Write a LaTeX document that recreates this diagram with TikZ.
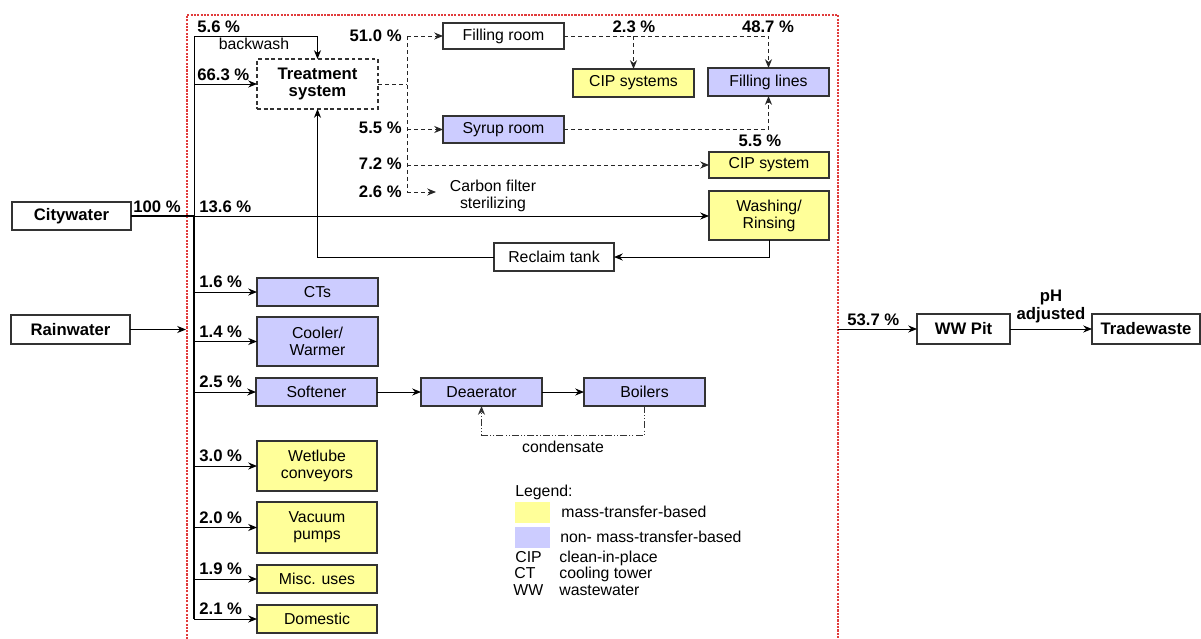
\documentclass[tikz,border=0pt]{standalone}
\usepackage{fontspec}
\setmainfont{Liberation Sans}
\usetikzlibrary{arrows.meta}
\definecolor{massfill}{HTML}{FFFF99}
\definecolor{nonmassfill}{HTML}{CCCCFF}
\definecolor{boxline}{HTML}{333333}
\definecolor{plantred}{HTML}{E03C3C}
% box from its two corners: name, x1, y1, x2, y2, style, text
\newcommand\flowbox[7]{\node[#6, minimum width={(#4-#2)*0.02cm}, minimum height={(#5-#3)*0.02cm}] (#1) at ({(#2+#4)/2},{(#3+#5)/2}) {#7};}
\tikzset{
  unit/.style={draw=boxline, line width=0.6pt, inner sep=0pt, outer sep=0pt, align=center, font=\fontsize{9}{9.6}\selectfont},
  plain/.style={unit, fill=white},
  mass/.style={unit, fill=massfill},
  nonmass/.style={unit, fill=nonmassfill},
  bplain/.style={plain, font=\fontsize{9.5}{10}\selectfont\bfseries},
  dashbox/.style={unit, dash pattern=on 2.2pt off 1.6pt, font=\fontsize{9.5}{9.6}\selectfont\bfseries},
  swatch/.style={inner sep=0pt, outer sep=0pt},
  pct/.style={font=\fontsize{9.5}{10}\selectfont\bfseries, inner sep=0pt},
  txt/.style={font=\fontsize{9}{9.6}\selectfont, inner sep=0pt, align=center},
  tip/.style={-{Stealth[length=5pt,width=4pt]}},
  pipe/.style={line width=0.55pt},
  flow/.style={pipe, tip},
  trunk/.style={line width=1.6pt},
  dpipe/.style={pipe, draw=black!85, dash pattern=on 2.3pt off 1.7pt},
  dflow/.style={dpipe, tip},
  condflow/.style={pipe, draw=black!80, tip, dash pattern=on 4pt off 1.2pt on 0.6pt off 1.2pt on 0.6pt off 1.2pt},
  border/.style={draw=plantred, line width=0.6pt, dash pattern=on 1.2pt off 0.7pt}
}
\begin{document}
\begin{tikzpicture}[x=0.02cm, y=-0.02cm]
\useasboundingbox (0,0) rectangle (1201,639);

% plant boundary
\draw[border] (187,639) -- (187,15) -- (838,15) -- (838,639);

% sources and sinks
\flowbox{city}{12}{202}{131}{230}{bplain}{Citywater}
\flowbox{rain}{11}{315}{130}{344}{bplain}{Rainwater}
\flowbox{ww}{917}{314}{1010}{344}{bplain}{WW Pit}
\flowbox{trade}{1092}{314}{1200}{344}{bplain}{Tradewaste}

% process units
\flowbox{ts}{257}{59}{378}{109}{dashbox}{Treatment\\system}
\flowbox{fr}{443}{23}{564}{49}{plain}{Filling room}
\flowbox{cips}{573}{69}{694}{97}{mass}{CIP systems}
\flowbox{fl}{708}{68}{829}{96}{nonmass}{Filling lines}
\flowbox{sr}{443}{116}{564}{143}{nonmass}{Syrup room}
\flowbox{cip}{709}{152}{829}{178}{mass}{CIP system}
\flowbox{wash}{709}{191}{829}{240}{mass}{Washing/\\Rinsing}
\flowbox{rt}{494}{243}{614}{271}{plain}{Reclaim tank}
\flowbox{ct}{257}{278}{378}{306}{nonmass}{CTs}
\flowbox{cw}{257}{317}{378}{366}{nonmass}{Cooler/\\Warmer}
\flowbox{soft}{256}{378}{377}{406}{nonmass}{Softener}
\flowbox{dea}{421}{378}{542}{406}{nonmass}{Deaerator}
\flowbox{boil}{584}{378}{705}{406}{nonmass}{Boilers}
\flowbox{wet}{257}{441}{377}{491}{mass}{Wetlube\\conveyors}
\flowbox{vac}{257}{502}{377}{553}{mass}{Vacuum\\pumps}
\flowbox{misc}{257}{565}{377}{593}{mass}{Misc. uses}
\flowbox{dom}{257}{605}{377}{633}{mass}{Domestic}

% junction points
\coordinate (jtop) at (194,36);
\coordinate (jcity) at (194,216);
\coordinate (jbot) at (194,619);
\coordinate (rainend) at (186,329.5);
\coordinate (tsj) at (407,84);
\coordinate (dtop) at (407,36);
\coordinate (dbot) at (407,192);
\coordinate (cfend) at (436,192);
\coordinate (wwstart) at (838,329);

% city water trunk
\draw[trunk] (city.east) -- (jcity) -- (jbot);
\draw[flow] (jcity) -- (jtop) -- (jtop -| ts.north) -- (ts.north);
\draw[flow] (jtop |- ts.west) -- (ts.west);
\draw[flow] (jcity) -- (jcity -| wash.west);
\foreach \u in {ct,cw,soft,wet,vac,misc,dom}
  \draw[flow] (jtop |- \u.west) -- (\u.west);
\draw[flow] (rain.east) -- (rainend);

% treated water distribution
\draw[dpipe] (ts.east) -- (tsj);
\draw[dpipe] (dtop) -- (dbot);
\draw[dflow] (dtop) -- (fr.west);
\draw[dflow] (dtop |- sr.west) -- (sr.west);
\draw[dflow] (dtop |- cip.west) -- (cip.west);
\draw[dflow] (dbot) -- (cfend);
\draw[dflow] (fr.east) -- (fr.east -| fl.north) -- (fl.north);
\draw[dflow] (fr.east -| cips.north) -- (cips.north);
\draw[dflow] (sr.east) -- (sr.east -| fl.south) -- (fl.south);

% reclaim loop
\draw[flow] (wash.south) -- (wash.south |- rt.east) -- (rt.east);
\draw[flow] (rt.west) -- (rt.west -| ts.south) -- (ts.south);

% boiler feed
\draw[flow] (soft.east) -- (soft.east -| dea.west);
\draw[flow] (dea.east) -- (boil.west);
\draw[condflow] (boil.south) -- ++(0,29) -| (dea.south);

% wastewater
\draw[flow] (wwstart) -- (ww.west);
\draw[flow] (ww.east) -- (trade.west);

% flow percentages
\node[pct, anchor=base west] (p100) at (133,212) {100 \%};
\node[pct, anchor=base west] (p56) at (197,32) {5.6 \%};
\node[pct, anchor=base west] (p663) at (197,80) {66.3 \%};
\node[pct, anchor=base west] (p136) at (199,212) {13.6 \%};
\node[pct, anchor=base west] (p16) at (199,287) {1.6 \%};
\node[pct, anchor=base west] (p14) at (199,337) {1.4 \%};
\node[pct, anchor=base west] (p25) at (199,387) {2.5 \%};
\node[pct, anchor=base west] (p30) at (199,461) {3.0 \%};
\node[pct, anchor=base west] (p20) at (199,523) {2.0 \%};
\node[pct, anchor=base west] (p19) at (199,574) {1.9 \%};
\node[pct, anchor=base west] (p21) at (199,614) {2.1 \%};
\node[pct, anchor=base east] (p510) at (402,41) {51.0 \%};
\node[pct, anchor=base east] (p55a) at (402,133) {5.5 \%};
\node[pct, anchor=base east] (p72) at (402,169) {7.2 \%};
\node[pct, anchor=base east] (p26) at (402,197) {2.6 \%};
\node[pct, anchor=base] (p23) at (634,32) {2.3 \%};
\node[pct, anchor=base] (p487) at (768,32) {48.7 \%};
\node[pct, anchor=base] (p55b) at (760,146) {5.5 \%};
\node[pct, anchor=base west] (p537) at (847,325) {53.7 \%};
\node[pct, align=center, anchor=base] (ph) at (1051,319) {pH\\adjusted};

% stream notes
\node[txt, anchor=base] (bw) at (254,50) {backwash};
\node[txt, anchor=north] (cf) at (493,180) {Carbon filter\\sterilizing};
\node[txt, anchor=base] (cond) at (563,452) {condensate};

% legend
\node[txt, anchor=base west] (lg) at (515,496) {Legend:};
\flowbox{lgm}{515}{502}{550}{523}{swatch, fill=massfill}{}
\flowbox{lgn}{515}{527}{550}{548}{swatch, fill=nonmassfill}{}
\node[txt, anchor=base west] (lgmt) at (561,517) {mass-transfer-based};
\node[txt, anchor=base west] (lgnt) at (560,542) {non- mass-transfer-based};
\node[txt, anchor=base west] (lcip) at (515,562) {CIP};
\node[txt, anchor=base west] (lcipt) at (559,562) {clean-in-place};
\node[txt, anchor=base west] (lct) at (514,578) {CT};
\node[txt, anchor=base west] (lctt) at (559,578) {cooling tower};
\node[txt, anchor=base west] (lww) at (513,595) {WW};
\node[txt, anchor=base west] (lwwt) at (559,595) {wastewater};
\end{tikzpicture}
\end{document}
